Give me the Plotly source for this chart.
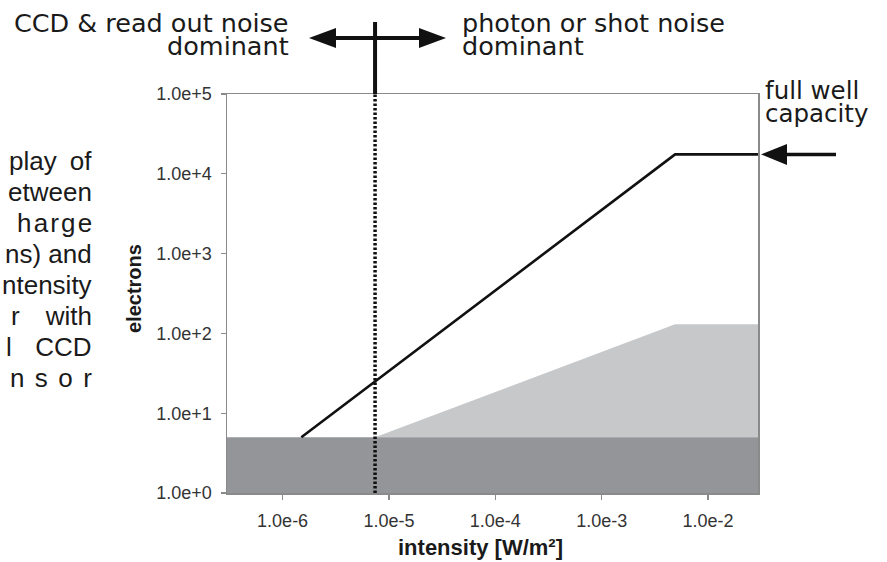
import math
import plotly.graph_objects as go

# ---------------- data ----------------
intensity_axis_range = [3.0e-7, 2.95e-2]          # W/m^2, plotted span
electrons_axis_range = [1.0, 1.0e5]

signal_intensity = [1.5e-6, 4.9e-3, 2.95e-2]        # black line (collected electrons)
signal_electrons = [5.0, 1.75e4, 1.75e4]

shot_intensity = [7.4e-6, 4.9e-3, 2.95e-2, 2.95e-2]  # light grey area (shot noise)
shot_electrons = [5.0, 130.0, 130.0, 5.0]

floor_intensity = [3.0e-7, 2.95e-2, 2.95e-2, 3.0e-7] # dark grey band (CCD & read-out noise)
floor_electrons = [1.0, 1.0, 5.0, 5.0]

crossover_intensity = [7.4e-6, 7.4e-6]              # dotted divider
crossover_electrons = [1.0, 1.0e5]

full_well = 1.75e4

x_tickvals = [1e-6, 1e-5, 1e-4, 1e-3, 1e-2]
x_ticktext = ["1.0e-6", "1.0e-5", "1.0e-4", "1.0e-3", "1.0e-2"]
y_tickvals = [1, 10, 100, 1e3, 1e4, 1e5]
y_ticktext = ["1.0e+0", "1.0e+1", "1.0e+2", "1.0e+3", "1.0e+4", "1.0e+5"]

side_text = ["play\u2002of", "etween", "h\u200aa\u200ar\u200ag\u200ae", "ns) and",
             "ntensity", "r\u2003with", "l\u2002\u2009\u2009CCD", "n\u2009\u2009s\u2009\u2009o\u2009\u2009r"]

# ---------------- layout geometry (pixels) ----------------
W, H = 887, 562
L, R, T, B = 227, 758, 94, 493


def px(x):
    return (x - L) / (R - L)


def py(y):
    return (B - y) / (B - T)


FONT = "Liberation Sans, Arial, sans-serif"
WIDE = "DejaVu Sans, sans-serif"
DARK = "#111111"
TXT = "#1a1a1a"

fig = go.Figure()

fig.add_trace(go.Scatter(x=shot_intensity, y=shot_electrons, fill="toself",
                         fillcolor="#c6c8ca", line=dict(width=0), mode="lines",
                         hoverinfo="skip", showlegend=False))
fig.add_trace(go.Scatter(x=floor_intensity, y=floor_electrons, fill="toself",
                         fillcolor="#939598", line=dict(width=0), mode="lines",
                         hoverinfo="skip", showlegend=False))
fig.add_trace(go.Scatter(x=signal_intensity, y=signal_electrons, mode="lines",
                         line=dict(color=DARK, width=2.6), showlegend=False))
fig.add_trace(go.Scatter(x=crossover_intensity, y=crossover_electrons, mode="lines",
                         line=dict(color=DARK, width=3.5, dash="2.5px,2px"),
                         showlegend=False))

shapes = []
# solid divider above the plot
shapes.append(dict(type="line", xref="x", yref="paper",
                   x0=crossover_intensity[0], x1=crossover_intensity[0],
                   y0=1.0, y1=py(22), line=dict(color=DARK, width=4)))

# double arrow
ay = py(38)
shapes.append(dict(type="line", xref="paper", yref="paper",
                   x0=px(330), x1=px(425), y0=ay, y1=ay, line=dict(color=DARK, width=4)))


def tri(tip_x, tip_y, length, half, direction):
    bx = tip_x - direction * length
    return ("M {:.5f},{:.5f} L {:.5f},{:.5f} L {:.5f},{:.5f} Z".format(
        px(tip_x), py(tip_y), px(bx), py(tip_y - half), px(bx), py(tip_y + half)))


shapes.append(dict(type="path", xref="paper", yref="paper", path=tri(309, 38, 27, 10, -1),
                   fillcolor=DARK, line=dict(width=0)))
shapes.append(dict(type="path", xref="paper", yref="paper", path=tri(446, 38, 27, 10, 1),
                   fillcolor=DARK, line=dict(width=0)))

# full well arrow
fw_pix = B - math.log10(full_well) / 5 * (B - T)
shapes.append(dict(type="line", xref="paper", yref="paper",
                   x0=px(780), x1=px(836), y0=py(fw_pix), y1=py(fw_pix),
                   line=dict(color=DARK, width=3.5)))
shapes.append(dict(type="path", xref="paper", yref="paper", path=tri(761, fw_pix, 26, 10.5, -1),
                   fillcolor=DARK, line=dict(width=0)))

annotations = []


def txt(text, x, y, xanchor, size=25, family=WIDE, **kw):
    annotations.append(dict(text=text, xref="paper", yref="paper", x=px(x), y=py(y),
                            xanchor=xanchor, yanchor="middle", showarrow=False,
                            font=dict(family=family, size=size, color=TXT), **kw))


txt("CCD & read out noise", 291, 23, "right", size=25.5)
txt("dominant", 291, 46.3, "right", size=25.5)
txt("photon or shot noise", 460, 23, "left", size=25.5)
txt("dominant", 460, 45.7, "left", size=25.5)
txt("full well", 763, 90.8, "left", size=24.5)
txt("capacity", 763, 113.2, "left", size=24.5)

for i, s in enumerate(side_text):
    txt(s, 94, 161 + 31 * i, "right", size=26, family=FONT)

# axis titles
annotations.append(dict(text="<b>electrons</b>", xref="paper", yref="paper",
                        x=px(134), y=py(289), xanchor="center", yanchor="middle",
                        textangle=-90, showarrow=False,
                        font=dict(family=FONT, size=20, color=TXT)))
annotations.append(dict(text="<b>intensity [W/m²]</b>", xref="paper", yref="paper",
                        x=px(480), y=py(547), xanchor="center", yanchor="middle",
                        showarrow=False, font=dict(family=FONT, size=22, color=TXT)))

axis_common = dict(showgrid=False, zeroline=False, showline=True, mirror=True,
                   linecolor="#8a8a8a", linewidth=1.5, ticks="outside", ticklen=5,
                   tickcolor="#8a8a8a", tickwidth=1.2,
                   tickfont=dict(family=FONT, size=18, color="#333333"))

fig.update_layout(
    width=W, height=H,
    margin=dict(l=L, r=W - R, t=T, b=H - B, pad=0),
    paper_bgcolor="white", plot_bgcolor="white",
    xaxis=dict(type="log", range=[math.log10(intensity_axis_range[0]),
                                  math.log10(intensity_axis_range[1])],
               tickvals=x_tickvals, ticktext=x_ticktext, ticklabelstandoff=6, **axis_common),
    yaxis=dict(type="log", range=[math.log10(electrons_axis_range[0]),
                                  math.log10(electrons_axis_range[1])],
               tickvals=y_tickvals, ticktext=y_ticktext, ticklabelstandoff=5, **axis_common),
    shapes=shapes,
    annotations=annotations,
    showlegend=False,
)

fig.write_html("out.html", config={"displayModeBar": False, "staticPlot": True},
               post_script="document.body.style.margin='0px';document.body.style.overflow='hidden';")
